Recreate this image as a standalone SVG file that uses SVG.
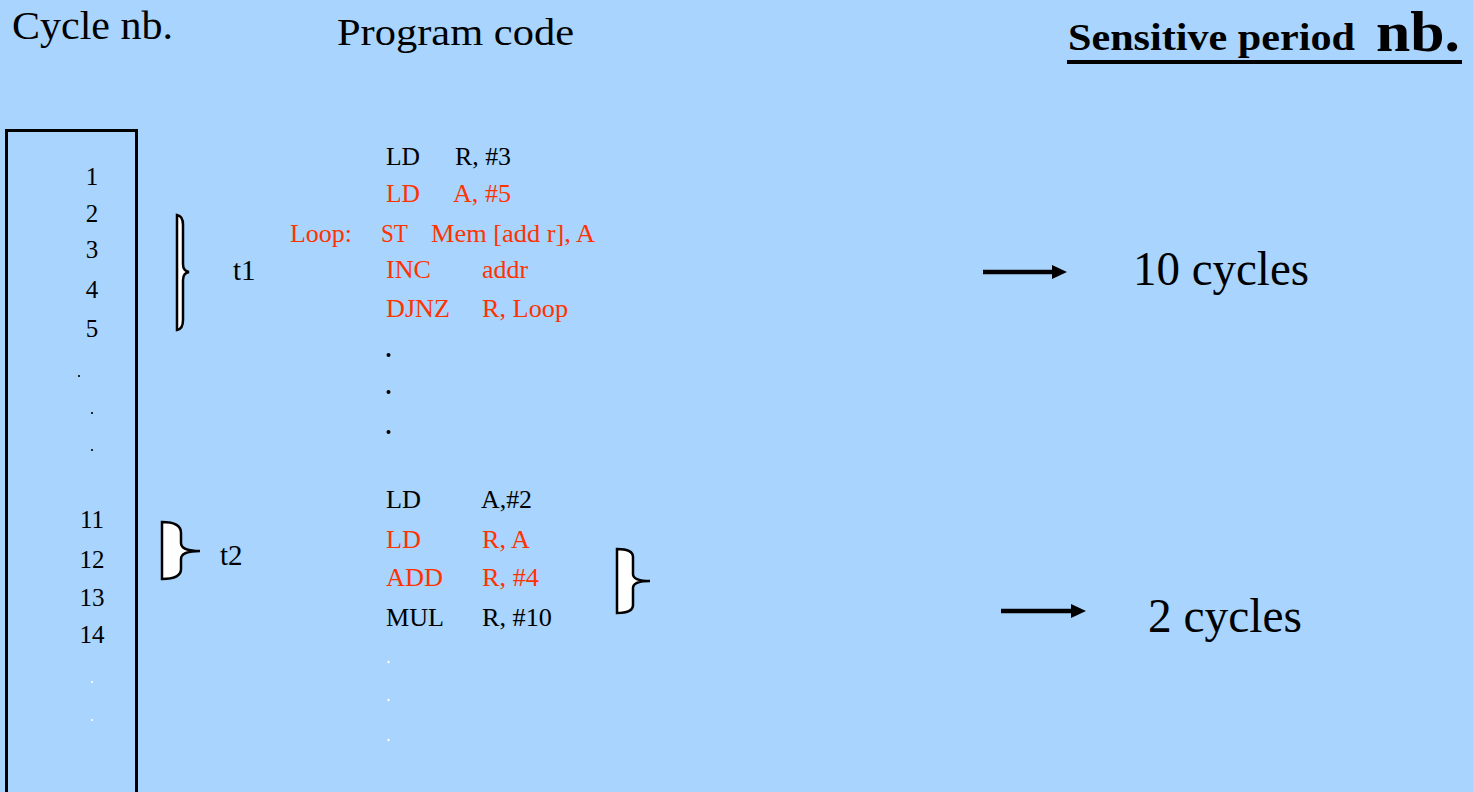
<svg xmlns="http://www.w3.org/2000/svg" width="1473" height="792" viewBox="0 0 1473 792">
<defs>
<style>
text{font-family:"Liberation Serif","Times New Roman",serif;fill:#000}
.red{fill:#FF3300}
.num{font-size:25px;text-anchor:middle}
.code{font-size:25px}
.big{font-size:48px}
.brace{fill:#FFFFFF;stroke:#000;stroke-width:2.5}
.arrow{stroke:#000;stroke-width:4.5;fill:none}
</style>
<marker id="ah" markerWidth="16" markerHeight="14" refX="3" refY="7" orient="auto" markerUnits="userSpaceOnUse"><path d="M0,0 L15,7 L0,14 Z" fill="#000"/></marker>
</defs>
<rect width="1473" height="792" fill="#A8D4FE"/>

<g id="headers">
<text x="12" y="39" font-size="41px" textLength="161" lengthAdjust="spacingAndGlyphs">Cycle nb.</text>
<text x="337" y="45" font-size="37px" textLength="237" lengthAdjust="spacingAndGlyphs">Program code</text>
<text x="1068" y="50" font-weight="bold" font-size="38px" textLength="287" lengthAdjust="spacingAndGlyphs">Sensitive period</text>
<text x="1376" y="51" font-weight="bold" font-size="57px" textLength="84" lengthAdjust="spacingAndGlyphs">nb.</text>
<line x1="1067" y1="62" x2="1462" y2="62" stroke="#000" stroke-width="4"/>
</g>

<g id="cycle-column">
<rect x="6.5" y="130.5" width="130" height="680" fill="none" stroke="#000" stroke-width="3"/>
<text class="num" x="92" y="185">1</text>
<text class="num" x="92" y="222">2</text>
<text class="num" x="92" y="258">3</text>
<text class="num" x="92" y="298">4</text>
<text class="num" x="92" y="337">5</text>
<circle cx="79" cy="376" r="1.1"/>
<circle cx="92" cy="413" r="1.1"/>
<circle cx="92" cy="450" r="1.1"/>
<text class="num" x="92" y="528">11</text>
<text class="num" x="92" y="568">12</text>
<text class="num" x="92" y="606">13</text>
<text class="num" x="92" y="643">14</text>
<circle cx="92" cy="682" r="1.1" fill="#FFFFFF"/>
<circle cx="92" cy="720" r="1.1" fill="#FFFFFF"/>
</g>

<g id="brace-t1">
<path class="brace" d="M177,215 Q183,216 183,225 L183,264 Q183,271 189,272 Q183,273 183,280 L183,320 Q183,329 177,330 Z"/>
<text x="233" y="280" font-size="29px">t1</text>
</g>

<g id="brace-t2">
<path class="brace" d="M162,522 Q181,522 181,533 L181,543 Q181,551 200,551 Q181,551 181,559 L181,569 Q181,579 162,579 Z"/>
<text x="220" y="565" font-size="29px">t2</text>
</g>

<g id="code-block-1">
<text class="code" x="386" y="165" textLength="34" lengthAdjust="spacingAndGlyphs">LD</text>
<text class="code" x="455" y="165" textLength="56" lengthAdjust="spacingAndGlyphs">R, #3</text>
<text class="code red" x="386" y="202" textLength="34" lengthAdjust="spacingAndGlyphs">LD</text>
<text class="code red" x="453" y="202" textLength="58" lengthAdjust="spacingAndGlyphs">A, #5</text>
<text class="code red" x="290" y="242" textLength="62" lengthAdjust="spacingAndGlyphs">Loop:</text>
<text class="code red" x="381" y="242" textLength="27" lengthAdjust="spacingAndGlyphs">ST</text>
<text class="code red" x="431" y="242" textLength="164" lengthAdjust="spacingAndGlyphs">Mem [add r], A</text>
<text class="code red" x="386" y="278" textLength="45" lengthAdjust="spacingAndGlyphs">INC</text>
<text class="code red" x="482" y="278" textLength="46" lengthAdjust="spacingAndGlyphs">addr</text>
<text class="code red" x="386" y="317" textLength="64" lengthAdjust="spacingAndGlyphs">DJNZ</text>
<text class="code red" x="482" y="317" textLength="86" lengthAdjust="spacingAndGlyphs">R, Loop</text>
<circle cx="388.5" cy="355" r="2"/>
<circle cx="388.5" cy="392" r="2"/>
<circle cx="388.5" cy="432" r="2"/>
</g>

<g id="code-block-2">
<text class="code" x="386" y="508" textLength="35" lengthAdjust="spacingAndGlyphs">LD</text>
<text class="code" x="481" y="508" textLength="51" lengthAdjust="spacingAndGlyphs">A,#2</text>
<text class="code red" x="386" y="548" textLength="35" lengthAdjust="spacingAndGlyphs">LD</text>
<text class="code red" x="482" y="548" textLength="48" lengthAdjust="spacingAndGlyphs">R, A</text>
<text class="code red" x="386" y="586" textLength="57" lengthAdjust="spacingAndGlyphs">ADD</text>
<text class="code red" x="482" y="586" textLength="57" lengthAdjust="spacingAndGlyphs">R, #4</text>
<text class="code" x="386" y="626" textLength="58" lengthAdjust="spacingAndGlyphs">MUL</text>
<text class="code" x="482" y="626" textLength="70" lengthAdjust="spacingAndGlyphs">R, #10</text>
<circle cx="388.5" cy="662" r="1.2" fill="#FFFFFF"/>
<circle cx="388.5" cy="700" r="1.2" fill="#FFFFFF"/>
<circle cx="388.5" cy="740" r="1.2" fill="#FFFFFF"/>
</g>

<g id="brace-3">
<path class="brace" d="M617,549 Q633,549 633,557 L633,574 Q633,581 650,581 Q633,581 633,588 L633,605 Q633,613 617,613 Z"/>
</g>

<g id="connectors">
<line class="arrow" x1="983" y1="272" x2="1055" y2="272" marker-end="url(#ah)"/>
<line class="arrow" x1="1001" y1="611" x2="1074" y2="611" marker-end="url(#ah)"/>
</g>

<g id="result-1">
<text class="big" x="1133" y="285" textLength="176" lengthAdjust="spacingAndGlyphs">10 cycles</text>
</g>
<g id="result-2">
<text class="big" x="1148" y="632" textLength="154" lengthAdjust="spacingAndGlyphs">2 cycles</text>
</g>
</svg>
